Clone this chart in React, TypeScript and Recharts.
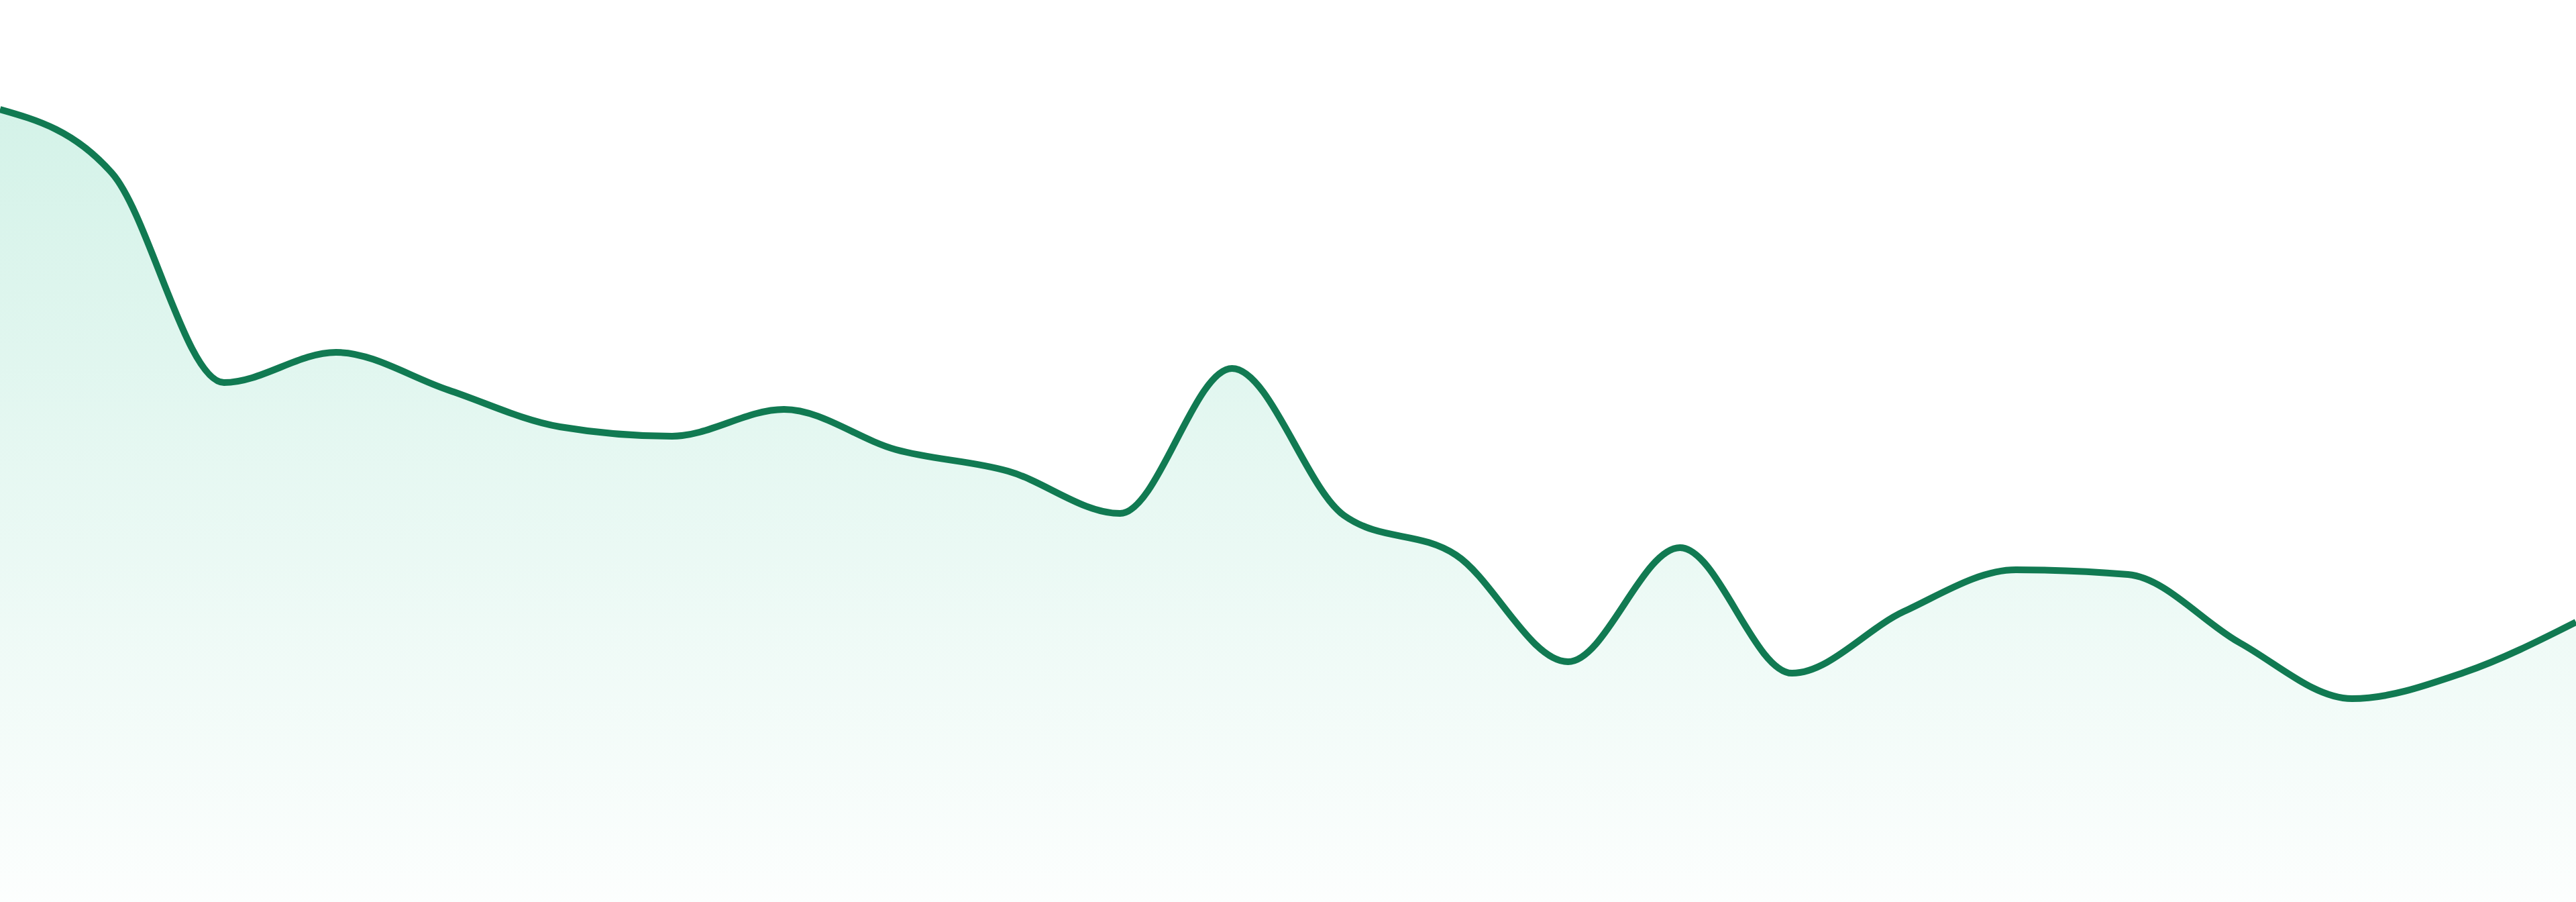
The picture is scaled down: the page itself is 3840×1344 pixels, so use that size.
/**
 * Hourly trend sparkline — full-bleed area chart, no axes.
 *
 * Monotone curve so local extremes sit flat on their data points,
 * green stroke over a vertical fade to near-white at the baseline.
 */
import { Area, AreaChart, XAxis, YAxis } from "recharts";

const WIDTH = 3840;
const HEIGHT = 1344;

const STROKE = "rgb(17, 122, 82)";
const FILL = "rgb(16, 185, 129)";

const hours = [
  "00:00", "01:00", "02:00", "03:00", "04:00", "05:00",
  "06:00", "07:00", "08:00", "09:00", "10:00", "11:00",
  "12:00", "13:00", "14:00", "15:00", "16:00", "17:00",
  "18:00", "19:00", "20:00", "21:00", "22:00", "23:00",
];

const values = [
  118.1, 108.6, 77.4, 81.9, 76.3, 70.8,
  69.4, 73.4, 67.4, 64.2, 57.9, 79.5,
  57.6, 51.7, 35.8, 52.8, 34.1, 43.3,
  49.5, 48.8, 38.6, 30.3, 34.2, 41.7,
];

const yDomain = [0, 134.4];

const data = hours.map((hour, i) => ({ hour, value: values[i] }));

export default function App() {
  return (
    <div style={{ position: "absolute", left: 0, top: 0 }}>
      <AreaChart
        width={WIDTH}
        height={HEIGHT}
        data={data}
        margin={{ top: 0, right: 0, bottom: 0, left: 0 }}
      >
        <defs>
          <linearGradient id="trendFill" x1="0" y1="0" x2="0" y2="1">
            <stop offset="0%" stopColor={FILL} stopOpacity={0.3} />
            <stop offset="100%" stopColor={FILL} stopOpacity={0.02} />
          </linearGradient>
        </defs>
        <XAxis dataKey="hour" hide />
        <YAxis hide domain={yDomain} />
        <Area
          type="monotone"
          dataKey="value"
          stroke={STROKE}
          strokeWidth={10}
          fill="url(#trendFill)"
          dot={false}
          activeDot={false}
          isAnimationActive={false}
        />
      </AreaChart>
    </div>
  );
}
